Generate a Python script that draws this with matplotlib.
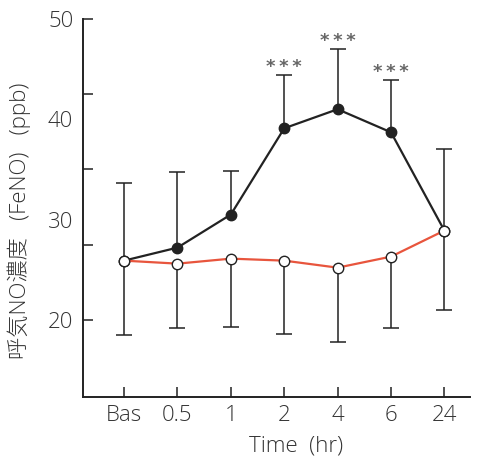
import matplotlib
matplotlib.use("Agg")
import matplotlib.pyplot as plt
import numpy as np

plt.rcParams['font.family'] = ['Open Sans', 'Noto Sans CJK JP', 'DejaVu Sans']
plt.rcParams['font.weight'] = 'light'

# time points
times = ['Bas', '0.5', '1', '2', '4', '6', '24']

# filled circles (black)
black_mean = [25.9, 27.2, 30.5, 39.1, 41.0, 38.7, 28.9]
black_upper = [33.6, 34.7, 34.8, 44.4, 47.0, 43.9, 37.0]

# open circles (red line)
red_mean = [25.9, 25.6, 26.1, 25.9, 25.2, 26.3, 28.9]
red_lower = [18.5, 19.2, 19.3, 18.6, 17.8, 19.2, 21.0]

# significance marks
sig_idx = [3, 4, 5]
sig_text = ['***', '***', '***']

ytick_marks = [20, 27.5, 35, 42.5, 50]
ytick_labels = [20, 30, 40, 50]

red = '#e8553d'
dark = '#222222'
txt = '#333333'

fig = plt.figure(figsize=(4.82, 4.58), dpi=100)
ax = fig.add_axes([83 / 482, 61 / 458, 387 / 482, 378 / 458])

x = np.arange(len(times))
bm = np.array(black_mean)
rm = np.array(red_mean)

# one-sided error bars: black goes up, red goes down
ax.vlines(x, bm, black_upper, color=dark, lw=1.1, zorder=1)
ax.plot(x, black_upper, ls='none', marker='_', ms=12, mew=1.1, color=dark, zorder=1)
ax.vlines(x, red_lower, rm, color=dark, lw=1.1, zorder=1)
ax.plot(x, red_lower, ls='none', marker='_', ms=12, mew=1.1, color=dark, zorder=1)

ax.plot(x, bm, color=dark, lw=1.6, marker='o', ms=7.5, mfc=dark, mec=dark, zorder=3)
ax.plot(x, rm, color=red, lw=1.6, zorder=4)
ax.plot(x, rm, ls='none', marker='o', ms=7.5, mfc='white', mec=dark, mew=1.0, zorder=5)

for i, t in zip(sig_idx, sig_text):
    ax.text(x[i], black_upper[i] + 0.8, '\u2009'.join(t), ha='center', va='center',
            fontsize=13, color='#666666', family='DejaVu Sans', weight='bold')

ax.set_xlim(-0.77, 6.48)
ax.set_ylim(12.3, 50)

ax.yaxis.remove_overlapping_locs = False
ax.set_xticks(x)
ax.set_xticklabels(times, fontsize=16, color=txt)
ax.set_yticks(ytick_marks)
ax.set_yticklabels([])
ax.set_yticks(ytick_labels, minor=True)
ax.set_yticklabels([str(v) for v in ytick_labels], minor=True, fontsize=16, color=txt)
ax.tick_params(axis='y', which='minor', length=0, pad=7)
ax.tick_params(axis='both', which='major', direction='in', length=7, width=1.1, color=dark)
ax.tick_params(axis='x', pad=6)

for s in ['top', 'right']:
    ax.spines[s].set_visible(False)
for s in ['left', 'bottom']:
    ax.spines[s].set_linewidth(1.4)
    ax.spines[s].set_color(dark)

ax.set_xlabel('Time  (hr)', fontsize=16, color=txt, va='center', weight='light')
ax.xaxis.set_label_coords(0.55, -0.13)
ax.set_ylabel('呼気NO濃度   (FeNO)   (ppb)', fontsize=16, color=txt, va='center',
              weight='light')
ax.yaxis.set_label_coords(-0.165, 0.465)

fig.savefig('out.png', dpi=100)
